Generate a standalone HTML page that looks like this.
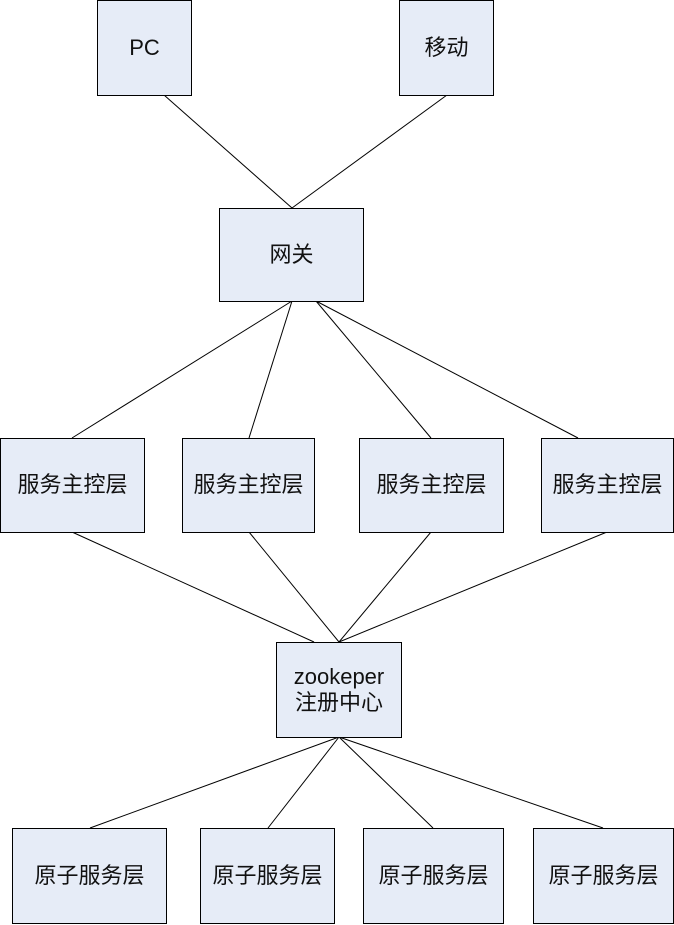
<!DOCTYPE html>
<html><head><meta charset="utf-8"><style>
html,body{margin:0;padding:0;background:#fff;width:674px;height:925px;overflow:hidden}
.b{position:absolute;box-sizing:border-box;border:1px solid #000;background:#e6ecf7;display:flex;align-items:center;justify-content:center;text-align:center;font-family:"Liberation Sans","Noto Sans CJK SC",sans-serif;font-size:22px;color:#111;line-height:1.2}
svg{position:absolute;left:0;top:0}
</style></head><body>
<svg width="674" height="925"><g stroke="#000" stroke-width="1" fill="none">
<line x1="164" y1="95" x2="292" y2="208"/><line x1="447" y1="95" x2="292" y2="208"/>
<line x1="292" y1="301" x2="72" y2="438"/><line x1="292" y1="301" x2="249" y2="438"/>
<line x1="316" y1="301" x2="431" y2="438"/><line x1="316" y1="301" x2="578" y2="438"/>
<line x1="72" y1="532" x2="314" y2="642"/><line x1="249" y1="532" x2="339" y2="642"/>
<line x1="431" y1="532" x2="339" y2="642"/><line x1="607" y1="532" x2="339" y2="642"/>
<line x1="339" y1="737" x2="90" y2="828"/><line x1="339" y1="737" x2="268" y2="828"/>
<line x1="339" y1="737" x2="433" y2="828"/><line x1="339" y1="737" x2="603" y2="828"/>
</g></svg>
<div class="b" style="left:97px;top:0;width:95px;height:96px">PC</div>
<div class="b" style="left:399px;top:0;width:95px;height:96px">移动</div>
<div class="b" style="left:219px;top:208px;width:145px;height:94px">网关</div>
<div class="b" style="left:0;top:438px;width:145px;height:95px">服务主控层</div>
<div class="b" style="left:182px;top:438px;width:133px;height:95px">服务主控层</div>
<div class="b" style="left:359px;top:438px;width:145px;height:95px">服务主控层</div>
<div class="b" style="left:541px;top:438px;width:133px;height:95px">服务主控层</div>
<div class="b" style="left:276px;top:642px;width:126px;height:96px">zookeper<br>注册中心</div>
<div class="b" style="left:12px;top:828px;width:155px;height:96px">原子服务层</div>
<div class="b" style="left:200px;top:828px;width:135px;height:96px">原子服务层</div>
<div class="b" style="left:363px;top:828px;width:141px;height:96px">原子服务层</div>
<div class="b" style="left:533px;top:828px;width:141px;height:96px">原子服务层</div>
</body></html>
